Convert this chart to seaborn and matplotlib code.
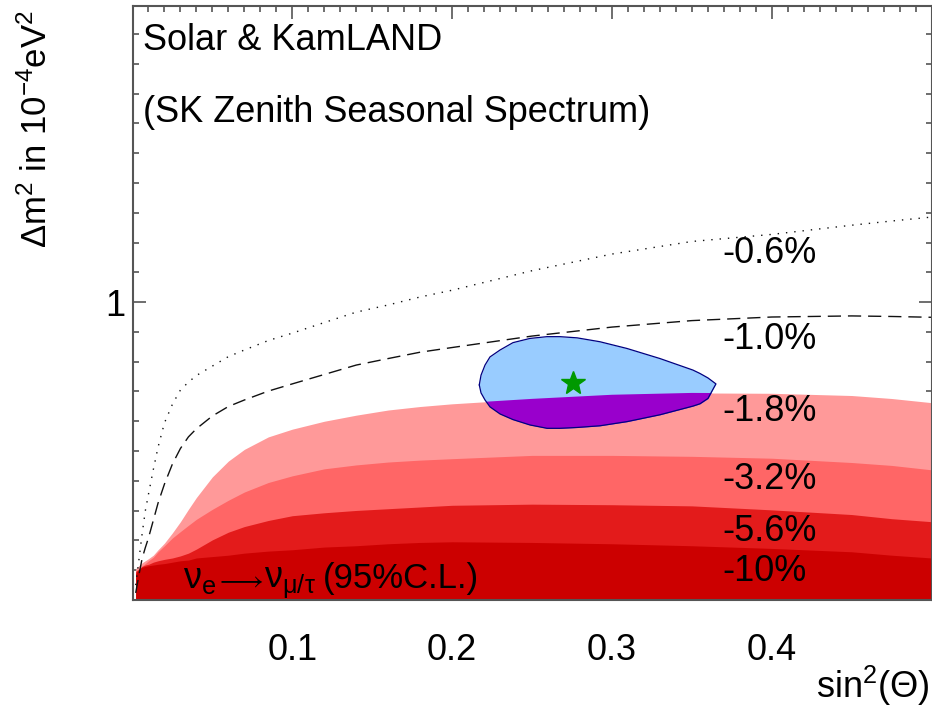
import numpy as np
import pandas as pd
import matplotlib
matplotlib.use("Agg")
import matplotlib.pyplot as plt
from matplotlib.ticker import FixedLocator, FixedFormatter, NullFormatter
import seaborn as sns

# sin^2(theta) grid on which the constant-asymmetry contours are sampled
sin2 = [0.002, 0.004, 0.006, 0.008, 0.010, 0.013, 0.016, 0.020, 0.025, 0.030,
        0.035, 0.040, 0.050, 0.060, 0.070, 0.085, 0.10, 0.12, 0.14, 0.16,
        0.18, 0.20, 0.25, 0.30, 0.35, 0.40, 0.45, 0.475, 0.50]

# Delta m^2 (in 1e-4 eV^2) along each day/night asymmetry contour
dm2_m0p6 = [0.335, 0.369, 0.408, 0.446, 0.476, 0.523, 0.571, 0.627, 0.674, 0.712,
            0.734, 0.753, 0.781, 0.810, 0.831, 0.862, 0.887, 0.924, 0.962, 0.989,
            1.020, 1.047, 1.129, 1.204, 1.264, 1.299, 1.346, 1.368, 1.389]
dm2_m1p0 = [0.325, 0.348, 0.371, 0.387, 0.402, 0.430, 0.460, 0.495, 0.535, 0.568,
            0.594, 0.613, 0.644, 0.668, 0.685, 0.709, 0.729, 0.756, 0.784, 0.804,
            0.824, 0.839, 0.877, 0.908, 0.931, 0.944, 0.948, 0.946, 0.943]
dm2_m1p8 = [0.357, 0.361, 0.365, 0.368, 0.371, 0.376, 0.384, 0.394, 0.410, 0.428,
            0.449, 0.470, 0.509, 0.541, 0.566, 0.594, 0.612, 0.631, 0.646, 0.659,
            0.668, 0.675, 0.688, 0.699, 0.704, 0.703, 0.697, 0.689, 0.678]
dm2_m3p2 = [0.354, 0.357, 0.361, 0.364, 0.368, 0.373, 0.381, 0.390, 0.402, 0.412,
            0.422, 0.432, 0.449, 0.465, 0.480, 0.498, 0.511, 0.525, 0.533, 0.539,
            0.543, 0.546, 0.553, 0.553, 0.551, 0.547, 0.538, 0.532, 0.523]
dm2_m5p6 = [0.353, 0.356, 0.360, 0.362, 0.363, 0.366, 0.368, 0.370, 0.372, 0.375,
            0.379, 0.385, 0.399, 0.411, 0.420, 0.430, 0.438, 0.443, 0.447, 0.450,
            0.453, 0.456, 0.458, 0.457, 0.455, 0.448, 0.440, 0.433, 0.428]
dm2_m10 = [0.350, 0.356, 0.359, 0.360, 0.361, 0.362, 0.363, 0.364, 0.366, 0.368,
           0.369, 0.372, 0.374, 0.376, 0.379, 0.382, 0.384, 0.388, 0.390, 0.393,
           0.395, 0.396, 0.395, 0.393, 0.390, 0.386, 0.381, 0.376, 0.372]

level_labels = ["-0.6%", "-1.0%", "-1.8%", "-3.2%", "-5.6%", "-10%"]

# Solar + KamLAND allowed region (upper and lower edge)
region_sin2 = [0.2170, 0.2181, 0.2206, 0.2237, 0.2300, 0.2381, 0.2487, 0.2594, 0.2675,
               0.2782, 0.2925, 0.3094, 0.3301, 0.3507, 0.3551, 0.3601, 0.3651]
region_upper = [0.726, 0.754, 0.784, 0.809, 0.831, 0.855, 0.869, 0.875, 0.875,
                0.871, 0.858, 0.836, 0.804, 0.769, 0.759, 0.746, 0.729]
region_lower = [0.726, 0.704, 0.685, 0.667, 0.649, 0.635, 0.622, 0.614, 0.614,
                0.616, 0.620, 0.630, 0.647, 0.669, 0.675, 0.689, 0.729]

best_fit_sin2 = [0.2757]
best_fit_dm2 = [0.731]

x_ticks = [0.1, 0.2, 0.3, 0.4]
x_tick_labels = ["0.1", "0.2", "0.3", "0.4"]
y_ticks = [1.0]
y_tick_labels = ["1"]

sns.set_theme(style="ticks")
plt.rcParams["font.family"] = ["Liberation Sans", "DejaVu Sans"]
plt.rcParams["text.color"] = "black"
plt.rcParams["mathtext.fontset"] = "custom"
plt.rcParams["mathtext.rm"] = "Liberation Sans"
plt.rcParams["mathtext.it"] = "Liberation Sans:italic"
plt.rcParams["mathtext.bf"] = "Liberation Sans:bold"

W, H = 932, 712
fig = plt.figure(figsize=(W / 100, H / 100), dpi=100)
ax = fig.add_axes([132.5 / W, 112 / H, 799 / W, 594 / H])
ax.set_yscale("log")
ax.set_xlim(0, 0.5)
y_floor = 10 ** -0.5
ax.set_ylim(y_floor, 10 ** 0.497)

x = np.array(sin2)

# filled asymmetry bands, lightest (largest) first
band_colors = ["#ff9999", "#ff6666", "#e31b1b", "#cc0000"]
bands = [dm2_m1p8, dm2_m3p2, dm2_m5p6, dm2_m10]
band_polys = []
for vals, col in zip(bands, band_colors):
    band_polys.append(ax.fill_between(x, y_floor, vals, color=col, lw=0, zorder=1))

# allowed region: light blue, purple where it overlaps the -1.8% band
rx = np.array(region_sin2)
up = np.array(region_upper)
lo = np.array(region_lower)
ax.fill_between(rx, lo, up, color="#99ccff", lw=0, zorder=2)
overlap = ax.fill_between(rx, lo, up, color="#9900cc", lw=0, zorder=2.1)
overlap.set_clip_path(band_polys[0].get_paths()[0], ax.transData)
ax.plot(np.r_[rx, rx[::-1]], np.r_[up, lo[::-1]], color="#000080", lw=0.9, zorder=2.2)

# open contours
lines = pd.DataFrame({"sin2": sin2 * 2,
                      "dm2": dm2_m0p6 + dm2_m1p0,
                      "level": ["-0.6%"] * len(sin2) + ["-1.0%"] * len(sin2)})
sns.lineplot(data=lines[lines.level == "-0.6%"], x="sin2", y="dm2", ax=ax,
             color="#111111", lw=1.0, linestyle=(0, (1, 5)), estimator=None,
             sort=False, legend=False, zorder=3)
sns.lineplot(data=lines[lines.level == "-1.0%"], x="sin2", y="dm2", ax=ax,
             color="#111111", lw=1.0, linestyle=(0, (9.5, 5)), estimator=None,
             sort=False, legend=False, zorder=3)

# best fit point
ax.plot(best_fit_sin2, best_fit_dm2, marker="*", ms=18, color="#009900",
        mec="#009900", ls="none", zorder=4)

# axes styling
ax.xaxis.set_major_locator(FixedLocator(x_ticks))
ax.xaxis.set_major_formatter(FixedFormatter(x_tick_labels))
ax.xaxis.set_minor_locator(FixedLocator(np.arange(1, 50) * 0.01))
ax.yaxis.set_major_locator(FixedLocator(y_ticks))
ax.yaxis.set_major_formatter(FixedFormatter(y_tick_labels))
ax.yaxis.set_minor_locator(FixedLocator(10 ** (0.05 * np.arange(-10, 11))))
ax.yaxis.set_minor_formatter(NullFormatter())
ax.set_xlabel("")
ax.set_ylabel("")
for s in ax.spines.values():
    s.set_visible(True)
    s.set_color("#555555")
    s.set_linewidth(1.5)
    s.set_zorder(5)
ax.tick_params(which="both", direction="in", top=True, right=True,
               color="#555555", width=1.2, labelcolor="black")
ax.tick_params(which="major", length=9.5, labelsize=26)
ax.tick_params(which="minor", length=4.5)
ax.tick_params(axis="x", which="major", pad=24)
ax.tick_params(axis="y", which="major", pad=5)

# annotations
fs = 26
ax.text(0.0131, 0.926, "Solar & KamLAND", transform=ax.transAxes, fontsize=fs,
        va="baseline", ha="left")
ax.text(0.0131, 0.8047, "(SK Zenith Seasonal Spectrum)", transform=ax.transAxes,
        fontsize=fs, va="baseline", ha="left")

# oscillation channel label, set piecewise so the arrow keeps its length
base = 0.0202
ax.text(0.0632, base, r"$\mathrm{\nu_e}$", transform=ax.transAxes, fontsize=fs,
        va="baseline", ha="left", zorder=6)
ax.text(0.1030, base, r"$\longrightarrow$", transform=ax.transAxes, fontsize=20,
        va="baseline", ha="left", zorder=6)
ax.text(0.1640, base, r"$\mathrm{\nu_{\mu/\tau}}$", transform=ax.transAxes,
        fontsize=fs, va="baseline", ha="left", zorder=6)
ax.text(0.2380, base, "(95%C.L.)", transform=ax.transAxes, fontsize=25,
        va="baseline", ha="left", zorder=6)

label_y = [0.5673, 0.4226, 0.3013, 0.1869, 0.0993, 0.032]
for txt, yy in zip(level_labels, label_y):
    ax.text(0.7378, yy, txt, transform=ax.transAxes, fontsize=fs,
            va="baseline", ha="left", zorder=6)

fig.text(37 / W, 1 - 10 / H, r"$\Delta$m$^{2}$ in 10$^{-4}$eV$^{2}$", rotation=90,
         fontsize=25, ha="center", va="top")
fig.text(930 / W, 14 / H, r"sin$^{2}$($\Theta$)", fontsize=fs, ha="right",
         va="baseline")

fig.savefig("out.png", dpi=100)
